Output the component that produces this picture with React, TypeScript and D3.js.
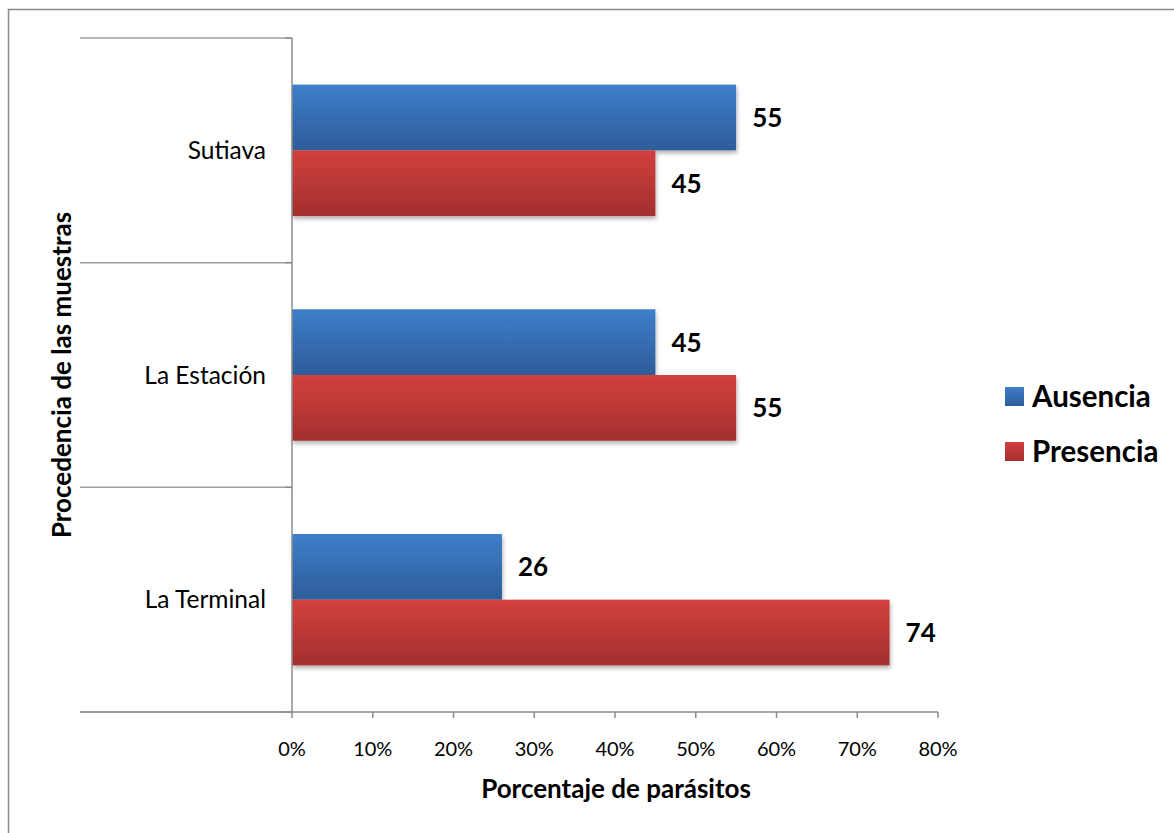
import React from 'react';
import * as d3 from 'd3';

// Data
const categories = ['Sutiava', 'La Estación', 'La Terminal'];
const seriesNames = ['Ausencia', 'Presencia'];
const ausencia = [55, 45, 26];
const presencia = [45, 55, 74];
const xTicks = [0, 10, 20, 30, 40, 50, 60, 70, 80];

const FONT = 'Lato, "Open Sans", sans-serif';
const W = 1174;
const H = 833;
const plot = { left: 292, right: 938, top: 38, bottom: 712 };
const colors = [
  { top: '#3e7ecb', bottom: '#2d5d99', id: 'g-aus' },
  { top: '#d2403d', bottom: '#a2302e', id: 'g-pre' },
];

export default function App() {
  const values = [ausencia, presencia];

  const x = d3.scaleLinear().domain([0, 80]).range([plot.left, plot.right]);
  const y = d3
    .scaleBand<string>()
    .domain(categories)
    .range([plot.top, plot.bottom])
    .paddingInner(0.415)
    .paddingOuter(0.2075);
  const ySub = d3
    .scaleBand<string>()
    .domain(seriesNames)
    .range([0, y.bandwidth()]);

  const step = y.step();
  const boundaries = d3.range(categories.length + 1).map((i) => plot.top + i * step);
  const axisColor = '#8c8c8c';

  return (
    <svg
      width={W}
      height={H}
      style={{ position: 'absolute', left: 0, top: 0, background: '#fff' }}
      fontFamily={FONT}
    >
      <defs>
        {colors.map((c) => (
          <linearGradient key={c.id} id={c.id} x1="0" y1="0" x2="0" y2="1">
            <stop offset="0%" stopColor={c.top} />
            <stop offset="100%" stopColor={c.bottom} />
          </linearGradient>
        ))}
        <filter id="shadow" x="-5%" y="-20%" width="115%" height="160%">
          <feGaussianBlur in="SourceAlpha" stdDeviation="2" />
          <feOffset dx="1" dy="3" result="b" />
          <feComponentTransfer>
            <feFuncA type="linear" slope="0.3" />
          </feComponentTransfer>
          <feMerge>
            <feMergeNode />
            <feMergeNode in="SourceGraphic" />
          </feMerge>
        </filter>
      </defs>

      {/* chart frame */}
      <rect x={8.5} y={9.5} width={W} height={H} fill="none" stroke="#8a8a8a" strokeWidth={1.5} />

      {/* category separators */}
      {boundaries.map((b, i) => (
        <g key={i}>
          <line x1={80} x2={plot.left} y1={b} y2={b} stroke="#a0a0a0" strokeWidth={1.5} />
          <line x1={plot.left - 7} x2={plot.left} y1={b} y2={b} stroke={axisColor} strokeWidth={1.5} />
        </g>
      ))}

      {/* bars */}
      {categories.map((cat, ci) => (
        <g key={cat}>
          {seriesNames.map((s, si) => {
            const v = values[si][ci];
            const y0 = (y(cat) ?? 0) + (ySub(s) ?? 0);
            return (
              <g key={s}>
                <rect
                  x={x(0)}
                  y={y0}
                  width={x(v) - x(0)}
                  height={ySub.bandwidth()}
                  fill={`url(#${colors[si].id})`}
                  filter="url(#shadow)"
                />
                <text
                  x={x(v) + 16}
                  y={y0 + ySub.bandwidth() / 2}
                  dy="0.36em"
                  fontSize={26}
                  fontWeight="bold"
                  fill="#000"
                >
                  {v}
                </text>
              </g>
            );
          })}
          <text
            x={plot.left - 26}
            y={(y(cat) ?? 0) + y.bandwidth() / 2}
            dy="0.36em"
            textAnchor="end"
            fontSize={24.5}
            fill="#000"
          >
            {cat}
          </text>
        </g>
      ))}

      {/* axes */}
      <line x1={plot.left} x2={plot.left} y1={plot.top} y2={plot.bottom} stroke={axisColor} strokeWidth={1.5} />
      <line x1={80} x2={plot.right} y1={plot.bottom} y2={plot.bottom} stroke={axisColor} strokeWidth={1.5} />
      {xTicks.map((t) => (
        <g key={t}>
          <line x1={x(t)} x2={x(t)} y1={plot.bottom} y2={plot.bottom + 6} stroke={axisColor} strokeWidth={1.5} />
          <text x={x(t)} y={756} textAnchor="middle" fontSize={20} fill="#000">
            {`${t}%`}
          </text>
        </g>
      ))}

      {/* axis titles */}
      <text x={616} y={798} textAnchor="middle" fontSize={26} fontWeight="bold" fill="#000">
        Porcentaje de parásitos
      </text>
      <text
        transform={`translate(71, 375) rotate(-90)`}
        textAnchor="middle"
        fontSize={26}
        fontWeight="bold"
        fill="#000"
      >
        Procedencia de las muestras
      </text>

      {/* legend */}
      {seriesNames.map((s, i) => (
        <g key={s} transform={`translate(1005, ${387 + i * 55})`}>
          <rect width={19} height={19} fill={`url(#${colors[i].id})`} />
          <text x={27} y={9.5} dy="0.36em" fontSize={29.5} fontWeight="bold" fill="#000">
            {s}
          </text>
        </g>
      ))}
    </svg>
  );
}
